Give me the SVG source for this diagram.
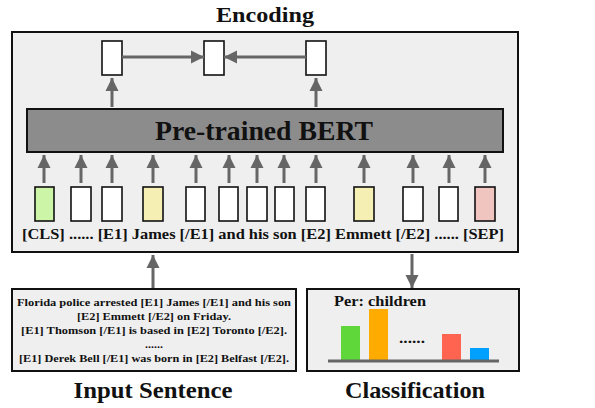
<svg xmlns="http://www.w3.org/2000/svg" width="595" height="408" viewBox="0 0 595 408">
<defs>
<marker id="ah" viewBox="0 0 10 10" refX="10" refY="5" markerWidth="4.4" markerHeight="4.4" markerUnits="strokeWidth" orient="auto">
<path d="M0,0 L10,5 L0,10 z" fill="#666"/>
</marker>
<style>
text{font-family:"Liberation Serif","DejaVu Serif",serif;font-weight:bold;fill:#111}
.panel{fill:#efefef;stroke:#111;stroke-width:2}
.tok{stroke:#111;stroke-width:1.6}
.w{fill:#fff}
.arr{stroke:#666;stroke-width:3;fill:none;marker-end:url(#ah)}
</style>
</defs>
<rect width="595" height="408" fill="#fff"/>
<text x="265" y="22" font-size="20" text-anchor="middle" textLength="98" lengthAdjust="spacingAndGlyphs">Encoding</text>
<g id="encoder">
<rect class="panel" x="12" y="32" width="506" height="220"/>
</g>
<g id="bert">
<rect x="27" y="109" width="476" height="43" fill="#8c8c8c" stroke="#111" stroke-width="2"/>
<text x="264" y="140" font-size="28" text-anchor="middle" textLength="218" lengthAdjust="spacingAndGlyphs">Pre-trained BERT</text>
</g>
<g id="outputs">
<rect class="tok w" x="102" y="41" width="20" height="34"/>
<rect class="tok w" x="204" y="41" width="20" height="34"/>
<rect class="tok w" x="306" y="41" width="20" height="34"/>
</g>
<g id="tokens">
<rect class="tok" x="35" y="187" width="19" height="34" fill="#cdf5a8"/>
<rect class="tok w" x="71" y="187" width="20" height="34"/>
<rect class="tok w" x="102" y="187" width="20" height="34"/>
<rect class="tok" x="143" y="187" width="20" height="34" fill="#f5efb3"/>
<rect class="tok w" x="186" y="187" width="19" height="34"/>
<rect class="tok w" x="219" y="187" width="19" height="34"/>
<rect class="tok w" x="247" y="187" width="20" height="34"/>
<rect class="tok w" x="275" y="187" width="19" height="34"/>
<rect class="tok w" x="306" y="187" width="19" height="34"/>
<rect class="tok" x="354" y="187" width="20" height="34" fill="#f5efb3"/>
<rect class="tok w" x="403" y="187" width="20" height="34"/>
<rect class="tok w" x="439" y="187" width="19" height="34"/>
<rect class="tok" x="475" y="187" width="20" height="34" fill="#f0c4bf"/>
<text x="22" y="239" font-size="15" textLength="482" lengthAdjust="spacingAndGlyphs">[CLS] ...... [E1] James [/E1] and his son [E2] Emmett [/E2] ...... [SEP]</text>
</g>
<g id="input">
<rect class="panel" x="12" y="289" width="284" height="82"/>
<g font-size="11" text-anchor="middle">
<text x="154" y="306" textLength="274" lengthAdjust="spacingAndGlyphs">Florida police arrested [E1] James [/E1] and his son</text>
<text x="154" y="320" textLength="154" lengthAdjust="spacingAndGlyphs">[E2] Emmett [/E2] on Friday.</text>
<text x="154" y="334" textLength="266" lengthAdjust="spacingAndGlyphs">[E1] Thomson [/E1] is based in [E2] Toronto [/E2].</text>
<text x="154" y="348" textLength="18" lengthAdjust="spacingAndGlyphs">......</text>
<text x="154" y="362" textLength="270" lengthAdjust="spacingAndGlyphs">[E1] Derek Bell [/E1] was born in [E2] Belfast [/E2].</text>
</g>
</g>
<text x="153" y="398" font-size="23" text-anchor="middle" textLength="159" lengthAdjust="spacingAndGlyphs">Input Sentence</text>
<g id="classification">
<rect class="panel" x="307" y="289" width="212" height="82"/>
<text x="334" y="306" font-size="15" textLength="92" lengthAdjust="spacingAndGlyphs">Per: children</text>
<rect x="341" y="326" width="19" height="35" fill="#5fd63a"/>
<rect x="369" y="309" width="19" height="52" fill="#ffab00"/>
<text x="399" y="343" font-size="15" textLength="26" lengthAdjust="spacingAndGlyphs">......</text>
<rect x="442" y="334" width="19" height="27" fill="#ff6450"/>
<rect x="470" y="348" width="19" height="13" fill="#00a0ff"/>
<line x1="328" y1="361" x2="499" y2="361" stroke="#666" stroke-width="3"/>
</g>
<text x="415" y="398" font-size="23" text-anchor="middle" textLength="140" lengthAdjust="spacingAndGlyphs">Classification</text>
<g id="connectors">
<line class="arr" x1="112" y1="107" x2="112" y2="78"/>
<line class="arr" x1="316" y1="107" x2="316" y2="78"/>
<line class="arr" x1="122" y1="57" x2="204" y2="57"/>
<line class="arr" x1="306" y1="57" x2="224" y2="57"/>
<line class="arr" x1="44" y1="183" x2="44" y2="155"/>
<line class="arr" x1="81" y1="183" x2="81" y2="155"/>
<line class="arr" x1="112" y1="183" x2="112" y2="155"/>
<line class="arr" x1="153" y1="183" x2="153" y2="155"/>
<line class="arr" x1="196" y1="183" x2="196" y2="155"/>
<line class="arr" x1="229" y1="183" x2="229" y2="155"/>
<line class="arr" x1="257" y1="183" x2="257" y2="155"/>
<line class="arr" x1="284" y1="183" x2="284" y2="155"/>
<line class="arr" x1="316" y1="183" x2="316" y2="155"/>
<line class="arr" x1="364" y1="183" x2="364" y2="155"/>
<line class="arr" x1="413" y1="183" x2="413" y2="155"/>
<line class="arr" x1="449" y1="183" x2="449" y2="155"/>
<line class="arr" x1="485" y1="183" x2="485" y2="155"/>
<line class="arr" x1="153" y1="288" x2="153" y2="255"/>
<line class="arr" x1="412" y1="254" x2="412" y2="288"/>
</g>
</svg>
